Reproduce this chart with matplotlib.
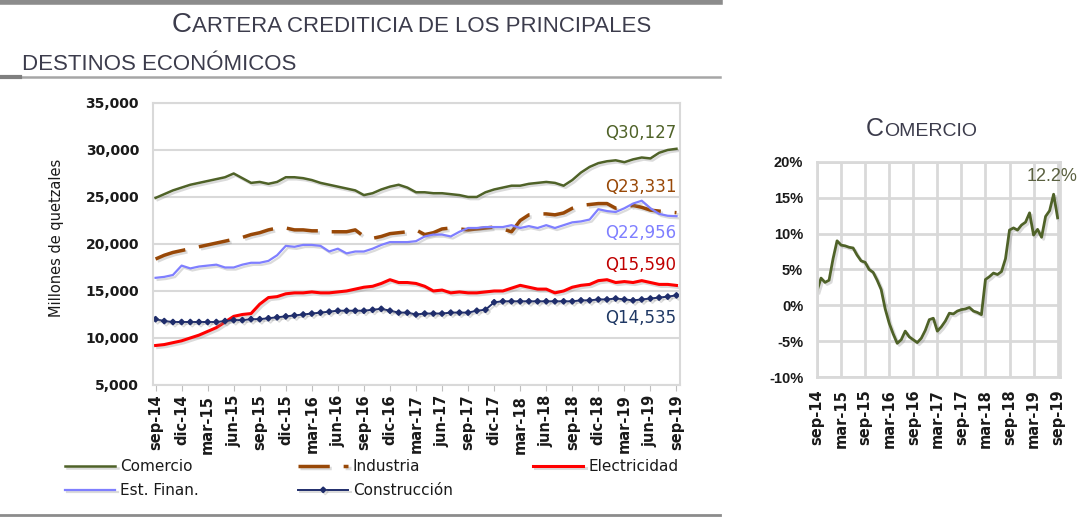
import numpy as np
import matplotlib
matplotlib.use('Agg')
import matplotlib.pyplot as plt
import matplotlib.patheffects as pe
from matplotlib.lines import Line2D
from matplotlib.ticker import FuncFormatter, MultipleLocator

# meses sep-14 ... sep-19 (61 observaciones mensuales)
meses = ['ene', 'feb', 'mar', 'abr', 'may', 'jun',
         'jul', 'ago', 'sep', 'oct', 'nov', 'dic']
fechas = [f'{meses[(8 + i) % 12]}-{14 + (8 + i) // 12}' for i in range(61)]

# millones de quetzales
comercio = [24900, 25300, 25700, 26000, 26300, 26500, 26700, 26900, 27100, 27500,
            27000, 26500, 26600, 26400, 26600, 27100, 27100, 27000, 26800, 26500,
            26300, 26100, 25900, 25700, 25200, 25400, 25800, 26100, 26300, 26000,
            25500, 25500, 25400, 25400, 25300, 25200, 25000, 25000, 25500, 25800,
            26000, 26200, 26200, 26400, 26500, 26600, 26500, 26200, 26800, 27600,
            28200, 28600, 28800, 28900, 28700, 29000, 29200, 29100, 29700, 30000,
            30127]
industria = [18400, 18800, 19100, 19300, 19500, 19700, 19900, 20100, 20300, 20500,
             20700, 21000, 21200, 21500, 21700, 21700, 21500, 21500, 21400, 21400,
             21300, 21300, 21300, 21500, 20800, 20600, 20800, 21100, 21200, 21300,
             21500, 21000, 21200, 21600, 21700, 21600, 21500, 21600, 21700, 21800,
             21600, 21300, 22500, 23100, 23200, 23200, 23100, 23300, 23800, 24100,
             24200, 24300, 24300, 23800, 23900, 24100, 23900, 23600, 23500, 23400,
             23331]
electricidad = [9200, 9300, 9500, 9700, 10000, 10300, 10700, 11100, 11700, 12300,
                12500, 12600, 13600, 14300, 14400, 14700, 14800, 14800, 14900, 14800,
                14800, 14900, 15000, 15200, 15400, 15500, 15800, 16200, 15900, 15900,
                15800, 15500, 15000, 15100, 14800, 14900, 14800, 14800, 14900, 15000,
                15000, 15300, 15600, 15400, 15200, 15200, 14800, 15000, 15400, 15600,
                15700, 16100, 16200, 15900, 16000, 15900, 16100, 15900, 15700, 15700,
                15590]
est_finan = [16400, 16500, 16700, 17700, 17400, 17600, 17700, 17800, 17500, 17500,
             17800, 18000, 18000, 18200, 18800, 19800, 19700, 19900, 19900, 19800,
             19200, 19500, 19000, 19200, 19200, 19500, 19900, 20200, 20200, 20200,
             20300, 20800, 21000, 21000, 20800, 21300, 21700, 21700, 21800, 21800,
             21800, 22000, 21700, 21900, 21700, 22000, 21700, 22000, 22300, 22400,
             22600, 23700, 23500, 23400, 23800, 24300, 24600, 23800, 23200, 23000,
             22956]
construccion = [12000, 11800, 11700, 11700, 11700, 11700, 11700, 11700, 11800, 11900,
                11900, 12000, 12000, 12100, 12200, 12300, 12400, 12500, 12600, 12700,
                12800, 12900, 12900, 12900, 12900, 13000, 13100, 12900, 12700, 12700,
                12500, 12600, 12600, 12600, 12700, 12700, 12700, 12900, 13000, 13800,
                13900, 13900, 13900, 13900, 13900, 13900, 13900, 13900, 13900, 14000,
                14000, 14100, 14100, 14200, 14100, 14000, 14100, 14200, 14300, 14400,
                14535]

# crecimiento interanual de Comercio (%)
crec_comercio = [2.0, 3.8, 3.2, 3.5, 6.5, 9.0, 8.4, 8.3, 8.1, 8.0,
                 7.0, 6.2, 6.0, 5.0, 4.6, 3.5, 2.2, -0.5, -2.5, -4.0,
                 -5.3, -4.8, -3.6, -4.4, -4.8, -5.2, -4.6, -3.5, -2.0, -1.8,
                 -3.6, -3.0, -2.2, -1.1, -1.2, -0.8, -0.6, -0.5, -0.3, -0.8,
                 -1.0, -1.3, 3.6, 4.0, 4.5, 4.3, 4.7, 6.5, 10.5, 10.8,
                 10.5, 11.2, 11.6, 12.9, 9.8, 10.6, 9.5, 12.4, 13.2, 15.5,
                 12.2]

x = np.arange(len(fechas))
narrow = ['Liberation Sans Narrow', 'Liberation Sans', 'DejaVu Sans']
gris_txt = '#3c3c4c'

fig = plt.figure(figsize=(10.81, 5.18), dpi=100)
sombra = [pe.SimpleLineShadow(offset=(1.5, -1.5), shadow_color='#888888', alpha=0.3),
          pe.Normal()]

# ---------------- grafica principal ----------------
ax = fig.add_axes([0.1415, 0.2568, 0.4875, 0.5444])
series = [
    ('Comercio', comercio, dict(color='#4f6228', lw=1.8)),
    ('Industria', industria, dict(color='#984807', lw=2.5, dashes=(9, 4))),
    ('Electricidad', electricidad, dict(color='#ff0000', lw=2.2)),
    ('Est. Finan.', est_finan, dict(color='#7f7fff', lw=1.6)),
    ('Construcción', construccion, dict(color='#1f2d6b', lw=1.4, marker='D', ms=2.8)),
]
lineas = {}
for nombre, vals, estilo in series:
    lineas[nombre], = ax.plot(x, vals, label=nombre, path_effects=sombra, **estilo)

ax.set_xlim(-0.3, 60.4)
ax.set_ylim(5000, 35000)
ax.yaxis.set_major_locator(MultipleLocator(5000))
ax.yaxis.set_major_formatter(FuncFormatter(lambda v, p: f'{v:,.0f}'))
ax.set_xticks(x[::3])
ax.set_xticklabels(fechas[::3], rotation=90, fontsize=10.5, fontweight='bold')
for lbl in ax.get_yticklabels():
    lbl.set_fontweight('bold')
ax.tick_params(axis='y', length=0, pad=10, labelsize=10, labelcolor='#1a1a1a')
ax.tick_params(axis='x', length=4, color='#bfbfbf', pad=3, labelcolor='#1a1a1a')
ax.grid(axis='y', color='#d9d9d9', lw=1.5)
ax.set_axisbelow(True)
for s in ax.spines.values():
    s.set_color('#d9d9d9')
    s.set_linewidth(1.5)

fig.text(57 / 1081, 1 - 238 / 518, 'Millones de quetzales', rotation=90,
         ha='center', va='center', fontsize=10.5, color='#1a1a1a')

# etiquetas del ultimo dato
etiquetas = [('Comercio', '#4f6228', 11.5), ('Industria', '#984807', 18.7),
             ('Est. Finan.', '#7f7fff', -12.2), ('Electricidad', '#c00000', 14.4),
             ('Construcción', '#1f3864', -16.6)]
datos = {n: v for n, v, _ in series}
for nombre, col, dy in etiquetas:
    v = datos[nombre][-1]
    ax.annotate(f'Q{v:,.0f}', xy=(x[-1], v), xytext=(0, dy), textcoords='offset points',
                ha='right', va='center', fontsize=12, color=col)

# leyenda en tres columnas
columnas = [(65, ['Comercio', 'Est. Finan.']), (298, ['Industria', 'Construcción']),
            (533, ['Electricidad'])]
for x0, nombres in columnas:
    leg = fig.legend([lineas[n] for n in nombres], nombres, loc='upper left',
                     bbox_to_anchor=(x0 / 1081, 1 - 459 / 518), frameon=False,
                     fontsize=11, handlelength=3.3, handletextpad=0.3,
                     labelspacing=0.6, borderpad=0, borderaxespad=0)
    for t in leg.get_texts():
        t.set_color('#1a1a1a')

# ---------------- grafica Comercio ----------------
ax2 = fig.add_axes([0.7558, 0.2722, 0.2248, 0.4151])
ax2.plot(x, crec_comercio, color='#4f6228', lw=2.0, path_effects=sombra)
ax2.set_xlim(0, 60.6)
ax2.set_ylim(-10, 20)
ax2.yaxis.set_major_locator(MultipleLocator(5))
ax2.yaxis.set_major_formatter(FuncFormatter(lambda v, p: f'{v:.0f}%'))
ax2.set_xticks(x[::6])
ax2.set_xticklabels(fechas[::6], rotation=90, fontsize=10.5, fontweight='bold')
for lbl in ax2.get_yticklabels():
    lbl.set_family(narrow)
    lbl.set_fontweight('bold')
    lbl.set_fontsize(10.5)
ax2.tick_params(axis='y', length=0, pad=10, labelcolor='#1a1a1a')
ax2.tick_params(axis='x', length=0, pad=9, labelcolor='#1a1a1a')
ax2.grid(color='#d9d9d9', lw=2)
ax2.set_axisbelow(True)
for s in ax2.spines.values():
    s.set_color('#d9d9d9')
    s.set_linewidth(2)
ax2.annotate(f'{crec_comercio[-1]:.1f}%', xy=(x[-1], crec_comercio[-1]), xytext=(-4, 30),
             textcoords='offset points', ha='center', va='center', fontsize=13,
             family=narrow, color='#5a6040')

# ---------------- titulos (versalitas) ----------------
renderer = fig.canvas.get_renderer()


def versalita(x0, y0, grande, resto, g, r):
    t = fig.text(x0, y0, grande, fontsize=g, family=narrow, color=gris_txt, va='baseline')
    bb = t.get_window_extent(renderer)
    fig.text(bb.x1 / fig.bbox.width, y0, resto, fontsize=r, family=narrow,
             color=gris_txt, va='baseline')


versalita(172 / 1081, 1 - 32 / 518, 'C', 'ARTERA CREDITICIA DE LOS PRINCIPALES', 20, 16)
fig.text(22 / 1081, 1 - 70 / 518, 'DESTINOS ECONÓMICOS', fontsize=16, family=narrow,
         color=gris_txt, va='baseline')
versalita(866 / 1081, 1 - 136 / 518, 'C', 'OMERCIO', 18, 14)

# lineas separadoras grises
W, H = 1081, 518
for (x1, x2, yy, lw, col) in [(0, 720, 2, 4, '#8c8c8c'), (0, 720, 77, 1.8, '#a6a6a6'),
                              (0, 20, 77, 3, '#7f7f7f'), (0, 720, 515, 2, '#8c8c8c')]:
    fig.add_artist(Line2D([x1 / W, x2 / W], [1 - yy / H, 1 - yy / H], lw=lw, color=col,
                          transform=fig.transFigure))

fig.savefig('out.png', dpi=100)
